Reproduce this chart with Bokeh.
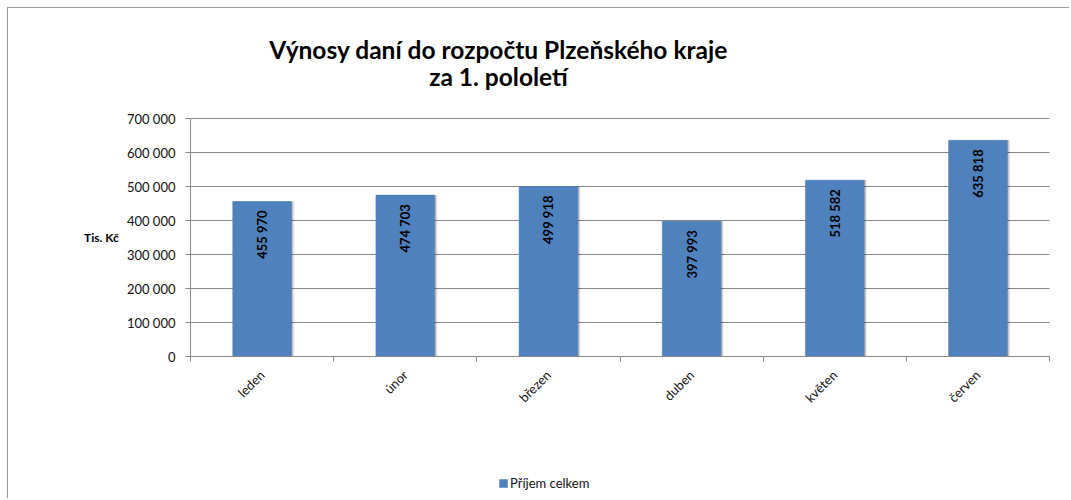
import math
from bokeh.plotting import figure
from bokeh.models import (Range1d, FixedTicker, Legend, LegendItem, ColumnDataSource, Label)
from bokeh.core.properties import value
from bokeh.embed import file_html
from bokeh.resources import INLINE

months = ["leden", "únor", "březen", "duben", "květen", "červen"]
income = [455970, 474703, 499918, 397993, 518582, 635818]
y_ticks = [0, 100000, 200000, 300000, 400000, 500000, 600000, 700000]
y_tick_labels = ["0", "100 000", "200 000", "300 000", "400 000", "500 000", "600 000", "700 000"]
series_name = "Příjem celkem"
title_lines = ["Výnosy daní do rozpočtu Plzeňského kraje", "za 1. pololetí"]
y_title = "Tis. Kč"

FONT = "Lato"
BAR = "#4F81BD"
GRID = "#868686"

# layout in pixels: plot area 859 x 238 px, with 182 px left, 21 px right,
# 110 px above and 143 px below inside a 1062 x 491 canvas
N = len(months)
Y_MAX = 700000
PLOT_W, LEFT_PX, RIGHT_PX = 859, 182, 21
PLOT_H, TOP_PX, BOT_PX = 238, 110, 143
x_lo = -N * LEFT_PX / PLOT_W
x_hi = N + N * RIGHT_PX / PLOT_W
y_lo = -Y_MAX * BOT_PX / PLOT_H
y_hi = Y_MAX + Y_MAX * TOP_PX / PLOT_H

xs = [i + 0.5 for i in range(N)]
labels = [f"{v:,}".replace(",", " ") for v in income]
src = ColumnDataSource(dict(x=xs, top=income, lab=labels))

p = figure(width=1062, height=491, output_backend="svg", toolbar_location=None,
           x_range=Range1d(x_lo, x_hi), y_range=Range1d(y_lo, y_hi),
           min_border_left=0, min_border_right=0, min_border_top=0, min_border_bottom=0,
           title=None)
p.styles = {"border-top": "1px solid #9a9a9a", "border-left": "1px solid #9a9a9a",
            "position": "relative", "left": "7px", "top": "7px"}
p.outline_line_color = None
p.xgrid.grid_line_color = None
p.ygrid.grid_line_color = None

# horizontal grid lines, only across the plot area
p.segment(x0=[0] * len(y_ticks), x1=[N] * len(y_ticks), y0=y_ticks, y1=y_ticks,
          line_color=GRID, line_width=1)

# shadow layers
for k, a in [(1, 0.18), (2, 0.12), (3, 0.07)]:
    dx = k / (PLOT_W / N)
    p.vbar(x=[x + dx for x in xs], top=income, width=0.41, bottom=0,
           fill_color="black", fill_alpha=a, line_color=None)

bars = p.vbar(x="x", top="top", width=0.41, bottom=0, source=src,
              fill_color=BAR, line_color=BAR, line_width=0.5)

p.text(x="x", y="top", text="lab", source=src, angle=math.pi / 2,
       text_align="right", text_baseline="middle", y_offset=9,
       text_font=value(FONT), text_font_size="13px", text_font_style="bold",
       text_color="#000000")

# y axis drawn at x = 0 inside the frame
p.yaxis.fixed_location = 0
p.yaxis.ticker = FixedTicker(ticks=y_ticks)
p.yaxis.bounds = (0, Y_MAX)
p.yaxis.major_label_overrides = {t: l for t, l in zip(y_ticks, y_tick_labels)}
p.yaxis.major_label_text_font = FONT
p.yaxis.major_label_text_font_size = "13px"
p.yaxis.major_label_text_color = "#111111"
p.yaxis.axis_line_color = GRID
p.yaxis.major_tick_line_color = GRID
p.yaxis.major_tick_out = 5
p.yaxis.major_tick_in = 0
p.yaxis.minor_tick_line_color = None
p.yaxis.major_label_standoff = 10

# x axis drawn at y = 0 inside the frame
p.xaxis.fixed_location = 0
p.xaxis.bounds = (0, N)
p.xaxis.ticker = FixedTicker(ticks=xs, minor_ticks=list(range(N + 1)))
p.xaxis.major_label_overrides = {x: m for x, m in zip(xs, months)}
p.xaxis.major_label_orientation = math.pi / 4
p.xaxis.major_label_text_font = FONT
p.xaxis.major_label_text_font_size = "13px"
p.xaxis.major_label_text_color = "#111111"
p.xaxis.axis_line_color = GRID
p.xaxis.major_tick_line_color = None
p.xaxis.minor_tick_line_color = GRID
p.xaxis.minor_tick_out = 5
p.xaxis.minor_tick_in = 0
p.xaxis.major_label_standoff = 10

# texts in screen units (frame = whole canvas, y measured from its bottom)
for txt, yy in [(title_lines[0], 450), (title_lines[1], 423)]:
    p.add_layout(Label(x=490, y=yy, x_units="screen", y_units="screen", text=txt,
                       text_align="center", text_baseline="alphabetic", text_font=FONT,
                       text_font_size="24.5px", text_font_style="bold", text_color="#000000"))
p.add_layout(Label(x=93, y=262, x_units="screen", y_units="screen", text=y_title,
                   text_align="center", text_baseline="middle", text_font=FONT,
                   text_font_size="12px", text_font_style="bold", text_color="#000000"))

legend = Legend(items=[LegendItem(label=series_name, renderers=[bars])],
                location=(490, 8), orientation="horizontal",
                padding=0, margin=0, spacing=0, glyph_width=10, glyph_height=10,
                label_standoff=2, label_text_font=FONT, label_text_font_size="13px",
                label_text_color="#111111", border_line_color=None,
                background_fill_alpha=0)
p.add_layout(legend, "center")

open("out.html", "w").write(file_html(p, INLINE))
